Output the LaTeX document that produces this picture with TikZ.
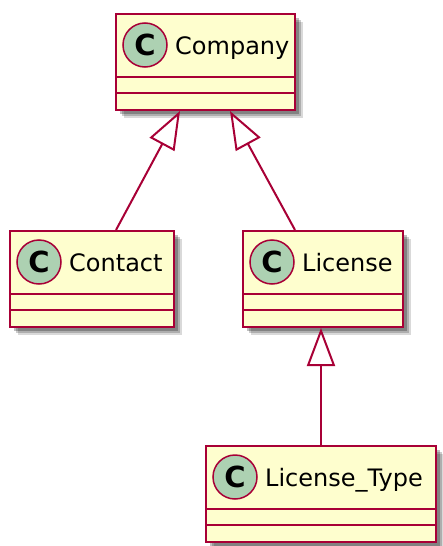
\documentclass[tikz,border=0pt]{standalone}
\usepackage{fontspec}
\setmainfont{DejaVu Sans}
\usetikzlibrary{arrows.meta, shadows}
\definecolor{umlred}{HTML}{A80036}
\definecolor{umlfill}{HTML}{FEFECE}
\definecolor{umlspot}{HTML}{ADD1B2}
\tikzset{
  classbox/.style={rectangle, draw=umlred, fill=umlfill, line width=2pt, anchor=north west,
    inner sep=0pt, minimum height=96pt,
    drop shadow={shadow xshift=8pt, shadow yshift=-8pt, fill=black, opacity=0.15},
    drop shadow={shadow xshift=6pt, shadow yshift=-6pt, fill=black, opacity=0.2},
    drop shadow={shadow xshift=4pt, shadow yshift=-4pt, fill=black, opacity=0.25}},
  spot/.style={circle, draw=umlred, fill=umlspot, line width=1.5pt, minimum size=44pt,
    inner sep=0pt, font=\fontsize{29}{29}\selectfont\bfseries},
  classname/.style={anchor=base west, inner sep=0pt, font=\fontsize{24}{28}\selectfont},
  extends/.style={umlred, line width=2pt, -{Triangle[open, length=38pt, width=28pt]}}
}

\begin{document}
\begin{tikzpicture}[x=1pt, y=-1pt]
\useasboundingbox (0,0) rectangle (442,546);
\foreach \n/\x/\y/\w/\t in {company/115/13/179/Company, contact/9/230/164/Contact,
    license/242/230/160/License, type/205/445/230/License\_Type}{
  \node[classbox, minimum width=\w pt] (\n) at (\x,\y) {};
  \draw[umlred, line width=2pt]
    ([yshift=-64pt]\n.north west) -- ([yshift=-64pt]\n.north east)
    ([yshift=-80pt]\n.north west) -- ([yshift=-80pt]\n.north east);
  \node[spot] (\n-spot) at ([xshift=30pt, yshift=-32pt]\n.north west) {C};
  \node[classname] (\n-name) at ([xshift=60pt, yshift=-41pt]\n.north west) {\t};
}
\draw[extends] ([xshift=107pt]contact.north west) -- ([xshift=65pt]company.south west);
\draw[extends] ([xshift=53pt]license.north west) -- ([xshift=115pt]company.south west);
\draw[extends] ([xshift=116pt]type.north west) -- ([xshift=79pt]license.south west);
\end{tikzpicture}
\end{document}
